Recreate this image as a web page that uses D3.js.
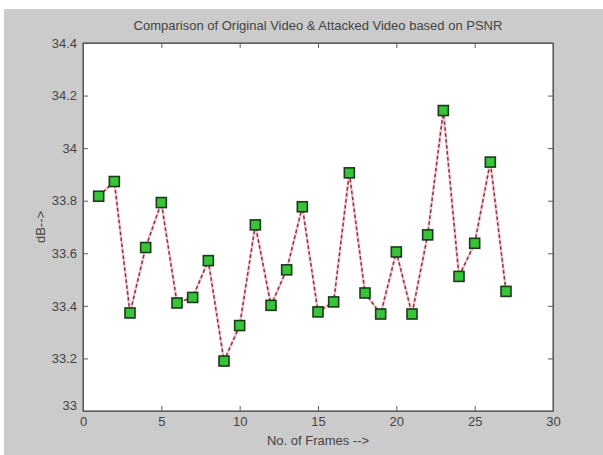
<!DOCTYPE html>
<html>
<head>
<meta charset="utf-8">
<script src="https://cdn.jsdelivr.net/npm/d3@7"></script>
<style>
  body { margin: 0; background: #ffffff; }
  svg text { font-family: "Liberation Sans", Arial, sans-serif; fill: #444444; }
</style>
</head>
<body>
<svg id="drawing-area"></svg>
<script>
// PSNR of the attacked video for each frame
var frames = [1, 2, 3, 4, 5, 6, 7, 8, 9, 10, 11, 12, 13, 14, 15, 16, 17, 18, 19, 20, 21, 22, 23, 24, 25, 26, 27];
var psnr = [33.817, 33.873, 33.373, 33.622, 33.793, 33.411, 33.432, 33.572, 33.190, 33.325,
            33.708, 33.402, 33.537, 33.777, 33.377, 33.415, 33.906, 33.449, 33.369, 33.605,
            33.369, 33.670, 34.143, 33.512, 33.638, 33.947, 33.455];
var xTicks = [0, 5, 10, 15, 20, 25, 30];
var yTicks = [33, 33.2, 33.4, 33.6, 33.8, 34, 34.2, 34.4];

var width = 603;
var height = 455;
var axLeft = 83, axRight = 553, axTop = 43, axBottom = 411;

var svg = d3.select("#drawing-area")
    .attr("width", width)
    .attr("height", height);

// grey figure background (white strip on top and left like the picture)
svg.append("rect")
    .attr("x", 4).attr("y", 9)
    .attr("width", width - 4).attr("height", height - 9)
    .attr("fill", "#cbcbcb");

var xScale = d3.scaleLinear().domain([0, 30]).range([axLeft, axRight]);
var yScale = d3.scaleLinear().domain([33, 34.4]).range([axBottom, axTop]);

svg.append("rect")
    .attr("x", axLeft).attr("y", axTop)
    .attr("width", axRight - axLeft).attr("height", axBottom - axTop)
    .attr("fill", "#ffffff");

var fmt = function(d) { return String(+d.toFixed(1)); };

var xAxis = d3.axisBottom(xScale).tickValues(xTicks).tickFormat(fmt).tickSizeInner(-5).tickSizeOuter(0).tickPadding(8);
var yAxis = d3.axisLeft(yScale).tickValues(yTicks).tickFormat(fmt).tickSizeInner(-5).tickSizeOuter(0).tickPadding(6);

var gx = svg.append("g")
    .attr("class", "x axis")
    .attr("transform", "translate(0," + axBottom + ")")
    .call(xAxis);
var gy = svg.append("g")
    .attr("class", "y axis")
    .attr("transform", "translate(" + axLeft + ",0)")
    .call(yAxis);

// ticks on the top and right edges too (box on)
svg.append("g")
    .attr("transform", "translate(0," + axTop + ")")
    .call(d3.axisTop(xScale).tickValues(xTicks).tickSizeInner(-5).tickSizeOuter(0).tickFormat(""));
svg.append("g")
    .attr("transform", "translate(" + axRight + ",0)")
    .call(d3.axisRight(yScale).tickValues(yTicks).tickSizeInner(-5).tickSizeOuter(0).tickFormat(""));

svg.selectAll(".domain").attr("stroke", "#5a5a5a");
svg.selectAll(".tick line").attr("stroke", "#5a5a5a");
svg.selectAll(".tick text").style("font-size", "13px").attr("fill", "#444444");

// MATLAB-like corner label: "33" sits just above the corner
gy.selectAll(".tick text").filter(function(d) { return d === 33; }).attr("dy", "-0.1em");
gx.selectAll(".tick text").attr("y", 6);

svg.append("rect")
    .attr("x", axLeft).attr("y", axTop)
    .attr("width", axRight - axLeft).attr("height", axBottom - axTop)
    .attr("fill", "none")
    .attr("stroke", "#5a5a5a")
    .attr("stroke-width", 1.2);

var line = d3.line()
    .x(function(d, i) { return xScale(frames[i]); })
    .y(function(d) { return yScale(d); });

svg.append("path")
    .attr("d", line(psnr))
    .attr("fill", "none")
    .attr("stroke", "#f5c9cd")
    .attr("stroke-width", 2.6);
svg.append("path")
    .attr("d", line(psnr))
    .attr("fill", "none")
    .attr("stroke", "#8e3448")
    .attr("stroke-width", 1.5)
    .attr("stroke-dasharray", "3.5,2.5");

var ms = 10;
svg.selectAll(".marker")
    .data(psnr)
    .enter()
    .append("rect")
    .attr("class", "marker")
    .attr("x", function(d, i) { return xScale(frames[i]) - ms / 2; })
    .attr("y", function(d) { return yScale(d) - ms / 2; })
    .attr("width", ms)
    .attr("height", ms)
    .attr("fill", "#38c438")
    .attr("stroke", "#1c3a1c")
    .attr("stroke-width", 1.6);

svg.append("text")
    .style("text-anchor", "middle")
    .style("font-size", "13px")
    .attr("x", (axLeft + axRight) / 2)
    .attr("y", 30)
    .text("Comparison of Original Video & Attacked Video based on PSNR");

svg.append("text")
    .style("text-anchor", "middle")
    .style("font-size", "13px")
    .attr("x", (axLeft + axRight) / 2)
    .attr("y", 445)
    .text("No. of Frames -->");

svg.append("text")
    .style("text-anchor", "middle")
    .style("font-size", "13px")
    .attr("transform", "translate(45," + ((axTop + axBottom) / 2) + ") rotate(-90)")
    .text("dB-->");
</script>
</body>
</html>
